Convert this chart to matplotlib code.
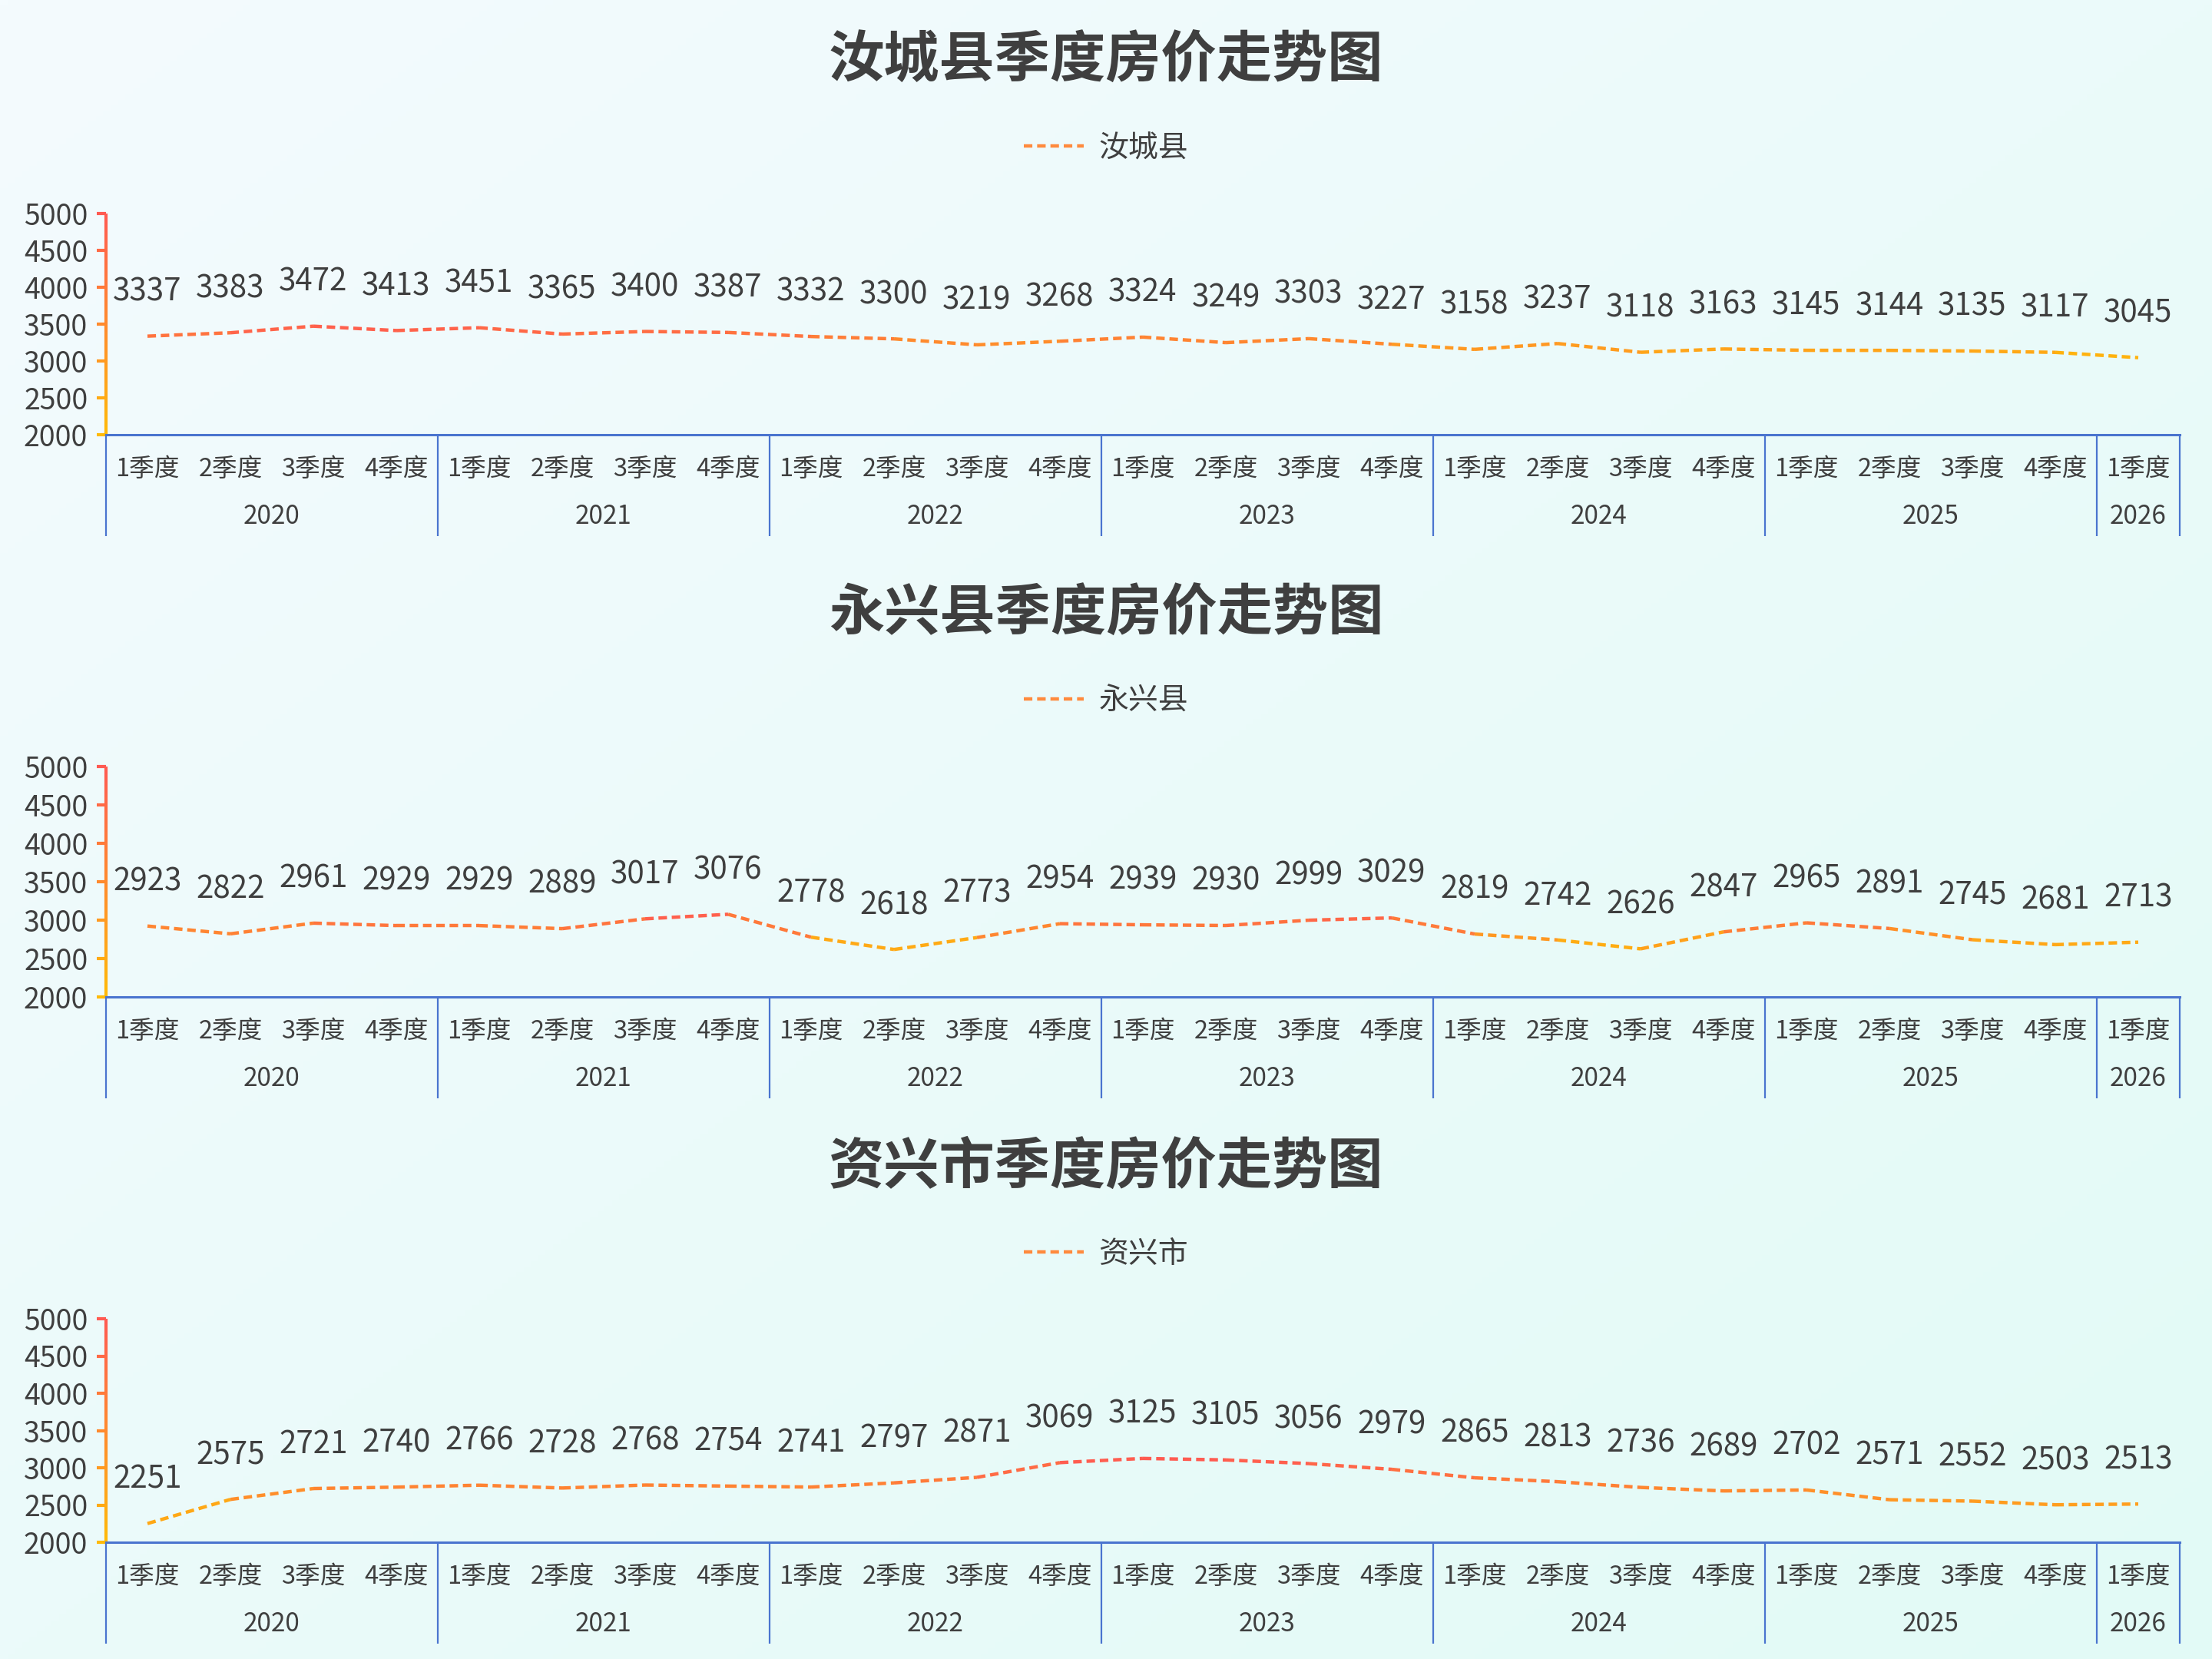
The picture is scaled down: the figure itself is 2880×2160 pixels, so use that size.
import numpy as np
import matplotlib.pyplot as plt
from matplotlib.collections import LineCollection
from matplotlib.colors import LinearSegmentedColormap, Normalize, to_rgb
from matplotlib.lines import Line2D

plt.rcParams['font.family'] = ['Noto Sans CJK SC', 'DejaVu Sans']

# data
quarters = ['1季度', '2季度', '3季度', '4季度'] * 6 + ['1季度']
years = ['2020', '2021', '2022', '2023', '2024', '2025', '2026']
year_counts = [4, 4, 4, 4, 4, 4, 1]

names = ['汝城县', '永兴县', '资兴市']
rucheng = [3337, 3383, 3472, 3413, 3451, 3365, 3400, 3387, 3332, 3300, 3219, 3268,
           3324, 3249, 3303, 3227, 3158, 3237, 3118, 3163, 3145, 3144, 3135, 3117, 3045]
yongxing = [2923, 2822, 2961, 2929, 2929, 2889, 3017, 3076, 2778, 2618, 2773, 2954,
            2939, 2930, 2999, 3029, 2819, 2742, 2626, 2847, 2965, 2891, 2745, 2681, 2713]
zixing = [2251, 2575, 2721, 2740, 2766, 2728, 2768, 2754, 2741, 2797, 2871, 3069,
          3125, 3105, 3056, 2979, 2865, 2813, 2736, 2689, 2702, 2571, 2552, 2503, 2513]
series = [rucheng, yongxing, zixing]
yticks = [2000, 2500, 3000, 3500, 4000, 4500, 5000]

W, H = 2880, 2160
txt = '#3F3F3F'
blue = '#4A74CF'
cmap = LinearSegmentedColormap.from_list('g', ['#FFBA08', '#FF5A52'])
dash = (0, (2.5, 1.4))

# plot area top / height in pixels for each panel
tops = [278, 998, 1717]
heights = [288, 300, 291]

fig = plt.figure(figsize=(W / 100, H / 100), dpi=100)

# background gradient
bg = fig.add_axes([0, 0, 1, 1], zorder=-10)
bg.axis('off')
gx, gy = np.meshgrid(np.linspace(0, 1, 300), np.linspace(0, 1, 300))
t = ((gx + gy) / 2)[..., None]
c0 = np.array(to_rgb('#F4FBFE'))
c1 = np.array(to_rgb('#E2FAF6'))
bg.imshow(c0 * (1 - t) + c1 * t, extent=(0, 1, 0, 1), aspect='auto')
bg.set_xlim(0, 1)
bg.set_ylim(0, 1)

ynorm = Normalize(2000, 5000)

for k, (name, vals) in enumerate(zip(names, series)):
    o = 720 * k
    top, hgt = tops[k], heights[k]
    ax = fig.add_axes([138 / W, 1 - (top + hgt) / H, 2700 / W, hgt / H])
    ax.set_facecolor('none')
    ax.set_xlim(-0.5, len(vals) - 0.5)
    ax.set_ylim(2000, 5000)
    for s in ['top', 'right', 'left']:
        ax.spines[s].set_visible(False)
    ax.spines['bottom'].set_color(blue)
    ax.spines['bottom'].set_linewidth(2.2)

    # y axis with gradient line and colored ticks
    ax.set_yticks(yticks)
    ax.tick_params(axis='y', length=9, width=3, pad=8, labelsize=27, labelcolor=txt)
    for tk, v in zip(ax.yaxis.get_major_ticks(), yticks):
        tk.tick1line.set_color(cmap(ynorm(v)))
        tk.tick1line.set_markeredgecolor(cmap(ynorm(v)))
    ys = np.linspace(2000, 5000, 61)
    ysegs = [[(-0.5, ys[i]), (-0.5, ys[i + 1])] for i in range(len(ys) - 1)]
    ax.add_collection(LineCollection(ysegs, colors=cmap(ynorm((ys[:-1] + ys[1:]) / 2)),
                                     linewidths=3, clip_on=False))

    # x axis: quarters and year groups
    ax.set_xticks([])
    xt = ax.get_xaxis_transform()
    for i, q in enumerate(quarters):
        ax.text(i, -45 / hgt, q, transform=xt, ha='center', va='center',
                fontsize=23.5, color=txt)
    edges = np.concatenate([[0], np.cumsum(year_counts)]) - 0.5
    ax.vlines(edges, -132 / hgt, 0, transform=xt, colors=blue, lw=1.6, clip_on=False)
    for y, a, b in zip(years, edges[:-1], edges[1:]):
        ax.text((a + b) / 2, -106 / hgt, y, transform=xt, ha='center', va='center',
                fontsize=24, color=txt)

    # dashed line with vertical gradient over its own range
    x = np.arange(len(vals))
    v = np.array(vals, dtype=float)
    lnorm = Normalize(v.min(), v.max())
    segs = [[(x[i], v[i]), (x[i + 1], v[i + 1])] for i in range(len(v) - 1)]
    lc = LineCollection(segs, colors=cmap(lnorm((v[:-1] + v[1:]) / 2)),
                        linewidths=3.2, linestyles=[dash])
    ax.add_collection(lc)

    for xi, vi in zip(x, vals):
        ax.annotate(str(vi), (xi, vi), xytext=(0, 41.5), textcoords='offset points',
                    ha='center', va='center', fontsize=29, color=txt)

    fig.text(0.5, 1 - (o + 80) / H, name + '季度房价走势图', ha='center', va='center',
             fontsize=52, fontweight='bold', color=txt)
    handle = Line2D([], [], color='#FF8A3D', lw=3.2, linestyle=dash)
    ax.legend([handle], [name], loc='center', bbox_to_anchor=(0.5, 1 - (o + 193) / H),
              bbox_transform=fig.transFigure, frameon=False, fontsize=28,
              handlelength=2.0, handletextpad=0.5, labelcolor=txt)

fig.savefig('out.png', dpi=100)
